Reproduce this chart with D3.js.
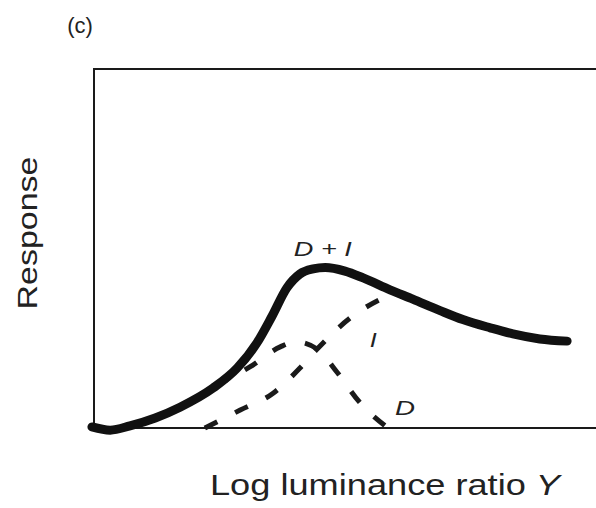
<!DOCTYPE html>
<html>
<head>
<meta charset="utf-8">
<script src="https://cdn.jsdelivr.net/npm/d3@7"></script>
<style>
  html, body { margin: 0; padding: 0; background: #fff; }
  svg { display: block; font-family: "Liberation Sans", Arial, sans-serif; }
</style>
</head>
<body>
<div id="chart"></div>
<script>
// krzywe (jednostki umowne)
const xSum = [-0.04, 0.32, 0.71, 1.21, 1.70, 2.35, 2.83, 3.22, 3.52, 3.81, 4.07, 4.33, 4.57, 4.96, 5.32, 5.85, 6.30, 6.84, 7.29, 7.83, 8.28, 8.81, 9.35];
const ySum = [0.03, -0.06, 0.06, 0.28, 0.58, 1.11, 1.67, 2.37, 3.12, 3.90, 4.29, 4.43, 4.47, 4.37, 4.18, 3.85, 3.59, 3.27, 3.02, 2.79, 2.62, 2.48, 2.42];

const xD = [2.39, 3.08, 3.68, 3.99, 4.41, 4.80, 5.26, 5.81];
const yD = [1.17, 1.70, 2.26, 2.40, 2.20, 1.56, 0.70, 0];

const xI = [2.19, 2.89, 3.54, 4.07, 4.41, 5.06, 5.71, 6.0];
const yI = [0, 0.50, 0.97, 1.67, 2.20, 3.06, 3.62, 3.79];

const labels = [
  { text: "D + I", x: 3.95, y: 4.8, len: 58 },
  { text: "I", x: 5.45, y: 2.25, len: 7 },
  { text: "D", x: 5.95, y: 0.37, len: 20 }
];

const width = 596, height = 508;
const svg = d3.select("#chart").append("svg")
  .attr("width", width)
  .attr("height", height);

const x = d3.scaleLinear().domain([0, 10]).range([94, 600]);
const y = d3.scaleLinear().domain([0, 10]).range([428, 69]);

// ramka (prawa krawędź poza kadrem)
svg.append("rect")
  .attr("x", x(0)).attr("y", y(10))
  .attr("width", x(10) - x(0) + 10)
  .attr("height", y(0) - y(10))
  .attr("fill", "none")
  .attr("stroke", "#1a1a1a")
  .attr("stroke-width", 2);

const line = d3.line()
  .x(d => x(d[0]))
  .y(d => y(d[1]))
  .curve(d3.curveMonotoneX);

[d3.zip(xD, yD), d3.zip(xI, yI)].forEach(pts => {
  svg.append("path")
    .datum(pts)
    .attr("d", line)
    .attr("fill", "none")
    .attr("stroke", "#1a1a1a")
    .attr("stroke-width", 5)
    .attr("stroke-dasharray", "14,20");
});

svg.append("path")
  .datum(d3.zip(xSum, ySum))
  .attr("d", line)
  .attr("fill", "none")
  .attr("stroke", "#111")
  .attr("stroke-width", 9)
  .attr("stroke-linecap", "round");

labels.forEach(l => {
  svg.append("text")
    .attr("x", x(l.x)).attr("y", y(l.y))
    .attr("font-size", 21)
    .attr("font-style", "italic")
    .attr("fill", "#222")
    .attr("textLength", l.len)
    .attr("lengthAdjust", "spacingAndGlyphs")
    .text(l.text);
});

svg.append("text")
  .attr("x", 80).attr("y", 33)
  .attr("text-anchor", "middle")
  .attr("font-size", 22)
  .attr("fill", "#222")
  .text("(c)");

svg.append("text")
  .attr("transform", "translate(37,233) rotate(-90)")
  .attr("text-anchor", "middle")
  .attr("font-size", 27)
  .attr("fill", "#222")
  .attr("textLength", 153)
  .attr("lengthAdjust", "spacingAndGlyphs")
  .text("Response");

const xl = svg.append("text")
  .attr("x", 210).attr("y", 495)
  .attr("font-size", 30)
  .attr("fill", "#222")
  .attr("textLength", 350)
  .attr("lengthAdjust", "spacingAndGlyphs");
xl.append("tspan").text("Log  luminance ratio ");
xl.append("tspan").attr("font-style", "italic").text("Y");
</script>
</body>
</html>
